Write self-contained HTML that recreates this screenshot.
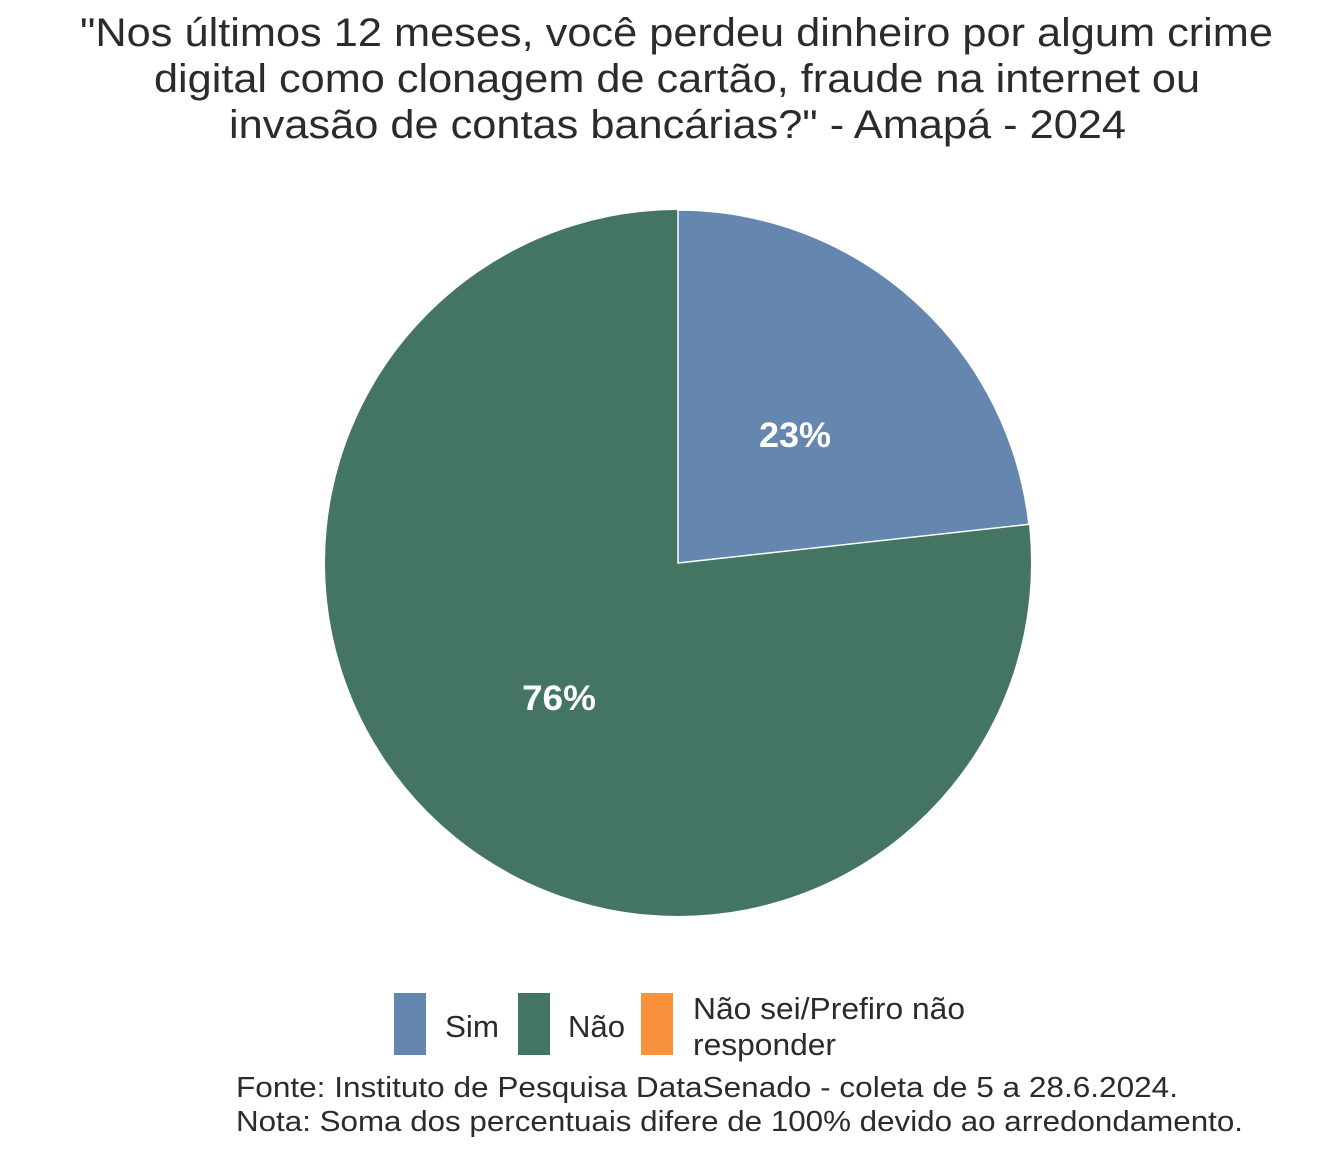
<!DOCTYPE html>
<html><head><meta charset="utf-8"><style>
body{margin:0;background:#fff;width:1344px;height:1152px;overflow:hidden}
svg text{font-family:"Liberation Sans",sans-serif}
</style></head><body>
<svg width="1344" height="1152" viewBox="0 0 1344 1152">
<g font-size="40" fill="#2b2b2b" lengthAdjust="spacingAndGlyphs">
<text x="80" y="46" textLength="1193" lengthAdjust="spacingAndGlyphs">"Nos últimos 12 meses, você perdeu dinheiro por algum crime</text>
<text x="154" y="92" textLength="1046" lengthAdjust="spacingAndGlyphs">digital como clonagem de cartão, fraude na internet ou</text>
<text x="229" y="138" textLength="897" lengthAdjust="spacingAndGlyphs">invasão de contas bancárias?" - Amapá - 2024</text>
</g>
<circle cx="678" cy="563" r="353" fill="#447563"/>
<path d="M678,563 L678,210 A353,353 0 0 1 1028.9,524.3 Z" fill="#6586ae" stroke="#fff" stroke-width="1.5"/>
<g font-size="35" font-weight="bold" fill="#fff">
<text x="759" y="447" textLength="72" lengthAdjust="spacingAndGlyphs">23%</text>
<text x="522" y="710" textLength="74" lengthAdjust="spacingAndGlyphs">76%</text>
</g>
<rect x="394" y="993" width="32" height="62" fill="#6586ae"/>
<rect x="518" y="993" width="32" height="62" fill="#447563"/>
<rect x="641" y="993" width="32" height="62" fill="#f8903c"/>
<g font-size="31" fill="#2b2b2b">
<text x="445" y="1037" textLength="54" lengthAdjust="spacingAndGlyphs">Sim</text>
<text x="568" y="1037" textLength="57" lengthAdjust="spacingAndGlyphs">Não</text>
<text x="693" y="1019" textLength="272" lengthAdjust="spacingAndGlyphs">Não sei/Prefiro não</text>
<text x="693" y="1055" textLength="143" lengthAdjust="spacingAndGlyphs">responder</text>
</g>
<g font-size="29" fill="#2b2b2b">
<text x="236" y="1097" textLength="942" lengthAdjust="spacingAndGlyphs">Fonte: Instituto de Pesquisa DataSenado - coleta de 5 a 28.6.2024.</text>
<text x="236" y="1131" textLength="1007" lengthAdjust="spacingAndGlyphs">Nota: Soma dos percentuais difere de 100% devido ao arredondamento.</text>
</g>
</svg>
</body></html>
